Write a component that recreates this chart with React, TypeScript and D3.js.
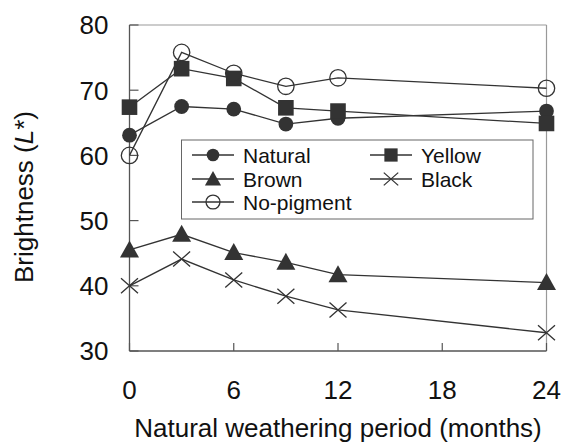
import React from "react";
import * as d3 from "d3";

const months = [0, 3, 6, 9, 12, 24];
const natural = [63.1, 67.5, 67.1, 64.8, 65.7, 66.8];
const yellow = [67.4, 73.3, 71.8, 67.3, 66.8, 64.9];
const brown = [45.5, 47.9, 45.1, 43.6, 41.7, 40.5];
const black = [40.0, 44.1, 40.9, 38.4, 36.3, 32.8];
const noPigment = [60.0, 75.8, 72.6, 70.6, 71.9, 70.3];
const xTicks = [0, 6, 12, 18, 24];
const yTicks = [30, 40, 50, 60, 70, 80];

type Sym = "circle" | "square" | "triangle" | "cross" | "open";
const series: { name: string; values: number[]; sym: Sym }[] = [
  { name: "Natural", values: natural, sym: "circle" },
  { name: "Yellow", values: yellow, sym: "square" },
  { name: "Brown", values: brown, sym: "triangle" },
  { name: "Black", values: black, sym: "cross" },
  { name: "No-pigment", values: noPigment, sym: "open" },
];

const INK = "#333";
const FONT = "'Liberation Sans', Arial, sans-serif";

function Marker({ sym, x, y, k = 1 }: { sym: Sym; x: number; y: number; k?: number }) {
  switch (sym) {
    case "circle":
      return <circle cx={x} cy={y} r={7.4 * k} fill={INK} />;
    case "square":
      return <rect x={x - 7.8 * k} y={y - 7.8 * k} width={15.6 * k} height={15.6 * k} fill={INK} />;
    case "triangle":
      return (
        <path
          d={`M${x},${y - 9.5 * k}L${x + 9.5 * k},${y + 7.5 * k}L${x - 9.5 * k},${y + 7.5 * k}Z`}
          fill={INK}
        />
      );
    case "cross":
      return (
        <path
          d={`M${x - 8.5 * k},${y - 7.5 * k}L${x + 8.5 * k},${y + 7.5 * k}M${x - 8.5 * k},${y + 7.5 * k}L${x + 8.5 * k},${y - 7.5 * k}`}
          stroke={INK}
          strokeWidth={1.3}
          fill="none"
        />
      );
    case "open":
      return <circle cx={x} cy={y} r={8.2 * k} fill="none" stroke={INK} strokeWidth={1.3} />;
  }
}

export default function App() {
  const W = 561, H = 444;
  const x = d3.scaleLinear().domain([0, 24]).range([129.5, 546.5]);
  const y = d3.scaleLinear().domain([30, 80]).range([351, 25]);
  const line = d3
    .line<number>()
    .x((_, i) => x(months[i]))
    .y((v) => y(v));

  const legendItems = [
    { s: series[0], lx: 192, ty: 155 },
    { s: series[1], lx: 370, ty: 155 },
    { s: series[2], lx: 192, ty: 179 },
    { s: series[3], lx: 370, ty: 179 },
    { s: series[4], lx: 192, ty: 202 },
  ];

  return (
    <svg width={W} height={H} style={{ position: "absolute", left: 0, top: 0, background: "#fff" }} fontFamily={FONT}>
      <rect x={0} y={0} width={W} height={H} fill="#fff" />
      {/* frame */}
      <line x1={x(0)} x2={x(24)} y1={y(80)} y2={y(80)} stroke="#999" strokeWidth={1.2} />
      <line x1={x(24)} x2={x(24)} y1={y(80)} y2={y(30)} stroke="#999" strokeWidth={1.2} />
      <line x1={x(0)} x2={x(0)} y1={y(80)} y2={y(30)} stroke="#555" strokeWidth={1.3} />
      <line x1={x(0)} x2={x(24)} y1={y(30)} y2={y(30)} stroke="#555" strokeWidth={1.3} />
      {yTicks.map((t) => (
        <g key={"y" + t}>
          <line x1={x(0)} x2={x(0) + 9} y1={y(t)} y2={y(t)} stroke="#555" strokeWidth={1.2} />
          <text x={x(0) - 21} y={y(t)} dy="0.36em" textAnchor="end" fontSize={26} fill="#111">
            {t}
          </text>
        </g>
      ))}
      {xTicks.map((t) => (
        <g key={"x" + t}>
          <line x1={x(t)} x2={x(t)} y1={y(30)} y2={y(30) - 8} stroke="#555" strokeWidth={1.2} />
          <text x={x(t)} y={399} textAnchor="middle" fontSize={26} fill="#111">
            {t}
          </text>
        </g>
      ))}
      <text x={338} y={437} textAnchor="middle" fontSize={26} fill="#111">
        Natural weathering period (months)
      </text>
      <text transform={`translate(33,197) rotate(-90)`} textAnchor="middle" fontSize={26} fill="#111">
        Brightness (<tspan fontStyle="italic">L</tspan>*)
      </text>

      {/* series lines */}
      {series.map((s) => (
        <path key={"l" + s.name} d={line(s.values) || ""} fill="none" stroke={INK} strokeWidth={1.3} />
      ))}
      {series.map((s) =>
        s.values.map((v, i) => <Marker key={s.name + i} sym={s.sym} x={x(months[i])} y={y(v)} />)
      )}

      {/* legend */}
      <rect x={181.5} y={140} width={351.5} height={79} fill="#fff" stroke="#666" strokeWidth={1} />
      {legendItems.map(({ s, lx, ty }) => (
        <g key={"lg" + s.name}>
          <line x1={lx} x2={lx + 42} y1={ty} y2={ty} stroke={INK} strokeWidth={1.3} />
          <Marker sym={s.sym} x={lx + 21} y={ty} k={0.85} />
          <text x={lx + 51} y={ty} dy="0.36em" fontSize={21} fill="#111">
            {s.name}
          </text>
        </g>
      ))}
    </svg>
  );
}
